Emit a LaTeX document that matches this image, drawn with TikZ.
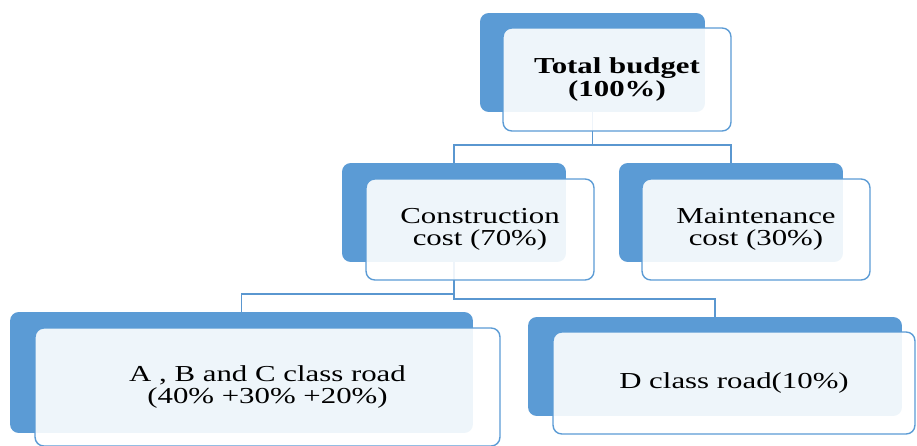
\documentclass[tikz,border=0pt]{standalone}
\usepackage{fontspec}
\setmainfont{Liberation Serif}
\usepackage{graphicx}
\usetikzlibrary{positioning,calc}

\definecolor{boxblue}{HTML}{5B9BD5}
\definecolor{lineblue}{HTML}{5A97D0}

% stretched text, as in the picture
\newcommand{\wide}[1]{\scalebox{1.35}[1]{#1}}

\begin{document}
\begin{tikzpicture}[x=0.02cm, y=-0.02cm,
	back/.style={fill=boxblue, rounded corners=5pt, inner sep=0pt},
	front/.style={draw=boxblue, line width=0.8pt, fill=white, fill opacity=0.9, text opacity=1,
		rounded corners=5pt, inner sep=0pt, align=center, font=\fontsize{13}{12.5}\selectfont},
	link/.style={draw=lineblue, line width=1pt}
]
\useasboundingbox (0,0) rectangle (917,446);

% Back boxes
\node[back, minimum width=4.5cm, minimum height=1.98cm] (total) at (592.5,62.5) {};
\node[back, minimum width=4.48cm, minimum height=1.98cm] (constr) at (454,212.5) {};
\node[back, minimum width=4.48cm, minimum height=1.98cm] (maint) at (731,212.5) {};
\node[back, minimum width=9.26cm, minimum height=2.42cm] (abc) at (241.5,372.5) {};
\node[back, minimum width=7.48cm, minimum height=1.98cm] (dcls) at (715,366.5) {};

% Links
\foreach \from/\to in {total/constr, total/maint, constr/abc, constr/dcls} {
	\draw[link] (\from.south) |- ([yshift=0.35cm]\to.north) -- (\to.north);
}

% Front boxes
\node[front, minimum width=4.56cm, minimum height=2.06cm, font=\fontsize{13}{13.5}\selectfont\bfseries] (total-f) at (617,79.5) {\wide{Total budget}\\\wide{(100\%)}};
\node[front, minimum width=4.56cm, minimum height=2.02cm] (constr-f) at (480,229.5) {\wide{Construction}\\\wide{cost (70\%)}};
\node[front, minimum width=4.56cm, minimum height=2.02cm] (maint-f) at (756,229.5) {\wide{Maintenance}\\\wide{cost (30\%)}};
\node[front, minimum width=9.3cm, minimum height=2.36cm] (abc-f) at (267.5,387) {\wide{A , B and C class road}\\\wide{(40\% +30\% +20\%)}};
\node[front, minimum width=7.24cm, minimum height=2.04cm] (dcls-f) at (734,383) {\wide{D class road(10\%)}};

\end{tikzpicture}
\end{document}
